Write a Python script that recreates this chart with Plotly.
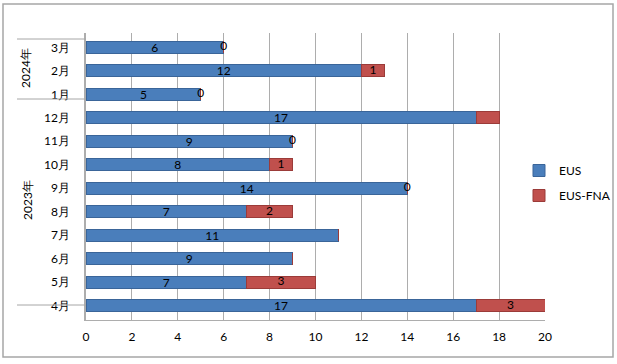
import plotly.graph_objects as go

months = ["4月", "5月", "6月", "7月", "8月", "9月", "10月", "11月", "12月", "1月", "2月", "3月"]
eus = [17, 7, 9, 11, 7, 14, 8, 9, 17, 5, 12, 6]
eus_fna = [3, 3, 0, 0, 2, 0, 1, 0, 1, 0, 1, 0]
fna_labels = ["3", "3", "", "", "2", "0", "1", "0", "", "0", "1", "0"]
year_labels = ["2023年", "2024年"]
x_ticks = [0, 2, 4, 6, 8, 10, 12, 14, 16, 18, 20]

W, H = 617, 364
L, R, T, B = 86, 545, 33, 320

def px(x):
    return (x - L) / (R - L)

def py(y):
    return (B - y) / (B - T)

FONT = "Lato, 'Open Sans', sans-serif"

fig = go.Figure()
fig.add_trace(go.Bar(
    y=months, x=eus, orientation="h", name="EUS",
    marker=dict(color="#4A7EBB", line=dict(color="#3A6599", width=1)),
    text=[str(v) for v in eus], textposition="inside", insidetextanchor="middle",
    textangle=0, constraintext="none",
    textfont=dict(color="black", size=12, family=FONT),
    legendgroup="a",
))
fig.add_trace(go.Bar(
    y=months, x=eus_fna, orientation="h", name="EUS-FNA",
    marker=dict(color="#C0504D", line=dict(color="#9B3B39", width=1)),
    legendgroup="b",
))
fig.add_trace(go.Scatter(
    y=months, x=[e + f / 2 for e, f in zip(eus, eus_fna)],
    mode="text", text=fna_labels, textposition="middle center",
    textfont=dict(color="black", size=12, family=FONT),
    showlegend=False, hoverinfo="skip", cliponaxis=False,
))

shapes = []
for yy in [39, 99, 305]:
    shapes.append(dict(type="line", xref="paper", yref="paper",
                       x0=px(17), x1=px(86), y0=py(yy), y1=py(yy),
                       line=dict(color="#A6A6A6", width=1)))
shapes.append(dict(type="rect", xref="paper", yref="paper",
                   x0=px(3), x1=px(613), y0=py(357), y1=py(4),
                   line=dict(color="#A6A6A6", width=1.5), layer="below"))

annotations = [
    dict(text=year_labels[1], xref="paper", yref="paper", x=px(25), y=py(68),
         xanchor="center", yanchor="middle",
         showarrow=False, textangle=-90, font=dict(size=12, family=FONT, color="black")),
    dict(text=year_labels[0], xref="paper", yref="paper", x=px(27), y=py(200),
         xanchor="center", yanchor="middle",
         showarrow=False, textangle=-90, font=dict(size=12, family=FONT, color="black")),
]

fig.update_layout(
    width=W, height=H,
    margin=dict(l=L, r=W - R, t=T, b=H - B, autoexpand=False),
    barmode="stack", bargap=0.48,
    plot_bgcolor="white", paper_bgcolor="white",
    font=dict(family=FONT, size=12, color="black"),
    shapes=shapes, annotations=annotations,
    legend=dict(x=px(519), y=py(156), xanchor="left", yanchor="top",
                font=dict(size=12, family=FONT), tracegroupgap=6,
                itemwidth=30, bgcolor="rgba(0,0,0,0)"),
    xaxis=dict(range=[0, 20], tickvals=x_ticks, showgrid=True,
               gridcolor="#ADADAD", gridwidth=1, zeroline=False,
               showline=True, linecolor="#ADADAD",
               tickfont=dict(size=12, family=FONT), ticklabelstandoff=6),
    yaxis=dict(categoryorder="array", categoryarray=months, showgrid=False,
               showline=True, linecolor="#ADADAD", linewidth=1.5,
               tickfont=dict(size=12, family=FONT), ticklabelstandoff=12),
)

fig.write_html("out.html", config={"displayModeBar": False})

with open("out.html", "r", encoding="utf-8") as f:
    html = f.read()
html = html.replace("<head>", "<head><style>html,body{margin:0;padding:0;overflow:hidden;}</style>", 1)
with open("out.html", "w", encoding="utf-8") as f:
    f.write(html)
